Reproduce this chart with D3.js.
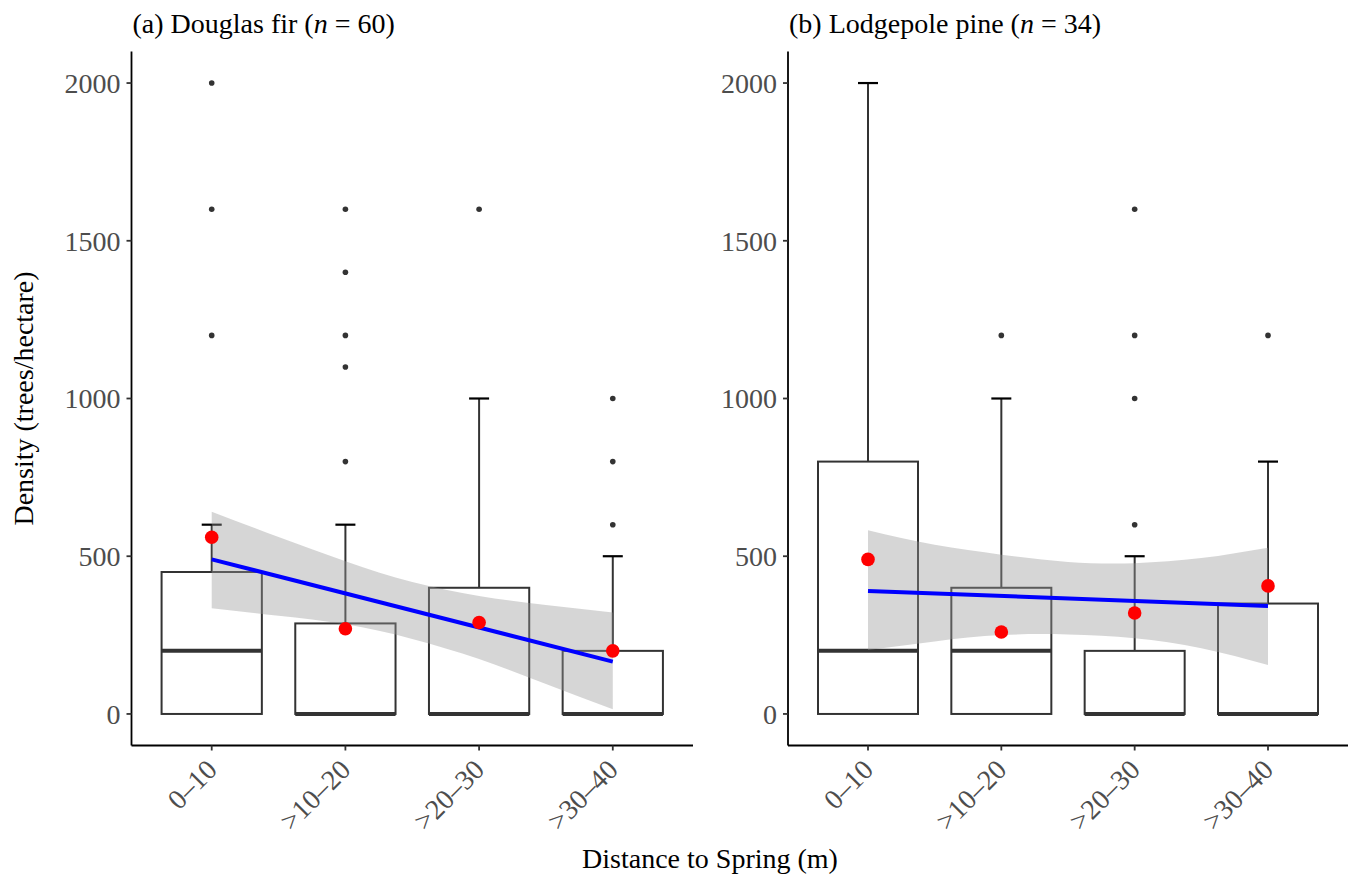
<!DOCTYPE html>
<html>
<head>
<meta charset="utf-8">
<script src="https://cdn.jsdelivr.net/npm/d3@7"></script>
<style>
  body { margin: 0; background: #fff; }
  svg { display: block; font-family: "Liberation Serif", "Times New Roman", serif; }
</style>
</head>
<body>
<svg id="chart" width="1354" height="878"></svg>
<script>
// Boxplots of tree density by distance to spring, two species panels.
const categories = ["0\u201310", ">10\u201320", ">20\u201330", ">30\u201340"];
const yTicks = [0, 500, 1000, 1500, 2000];

// (a) Douglas fir
const dfQ1 = [0, 0, 0, 0];
const dfMedian = [200, 0, 0, 0];
const dfQ3 = [450, 287, 400, 200];
const dfWhisker = [600, 600, 1000, 500];
const dfMean = [560, 270, 290, 200];
const dfOutliers = [[1200, 1600, 2000], [800, 1100, 1200, 1400, 1600], [1600], [600, 800, 1000]];
const dfFit = [490, 166];
const dfBandX = [1, 1.5, 2, 2.5, 3, 3.5, 4];
const dfUpper = [641, 561, 484, 418, 374, 345, 322];
const dfLower = [335, 311, 284, 238, 174, 95, 15];

// (b) Lodgepole pine
const lpQ1 = [0, 0, 0, 0];
const lpMedian = [200, 200, 0, 0];
const lpQ3 = [800, 400, 200, 350];
const lpWhisker = [2000, 1000, 500, 800];
const lpMean = [490, 260, 320, 406];
const lpOutliers = [[], [1200], [600, 1000, 1200, 1600], [1200]];
const lpFit = [390, 342];
const lpBandX = [1, 1.5, 2, 2.5, 3, 3.5, 4];
const lpUpper = [582, 536, 505, 482, 478, 494, 527];
const lpLower = [203, 230, 250, 252, 240, 208, 155];

const panels = [
  { label: "(a) Douglas fir (", n: 60, x0: 131.5, x1: 693,
    q1: dfQ1, med: dfMedian, q3: dfQ3, whi: dfWhisker, mean: dfMean, out: dfOutliers,
    fit: dfFit, bandX: dfBandX, upper: dfUpper, lower: dfLower },
  { label: "(b) Lodgepole pine (", n: 34, x0: 788, x1: 1348,
    q1: lpQ1, med: lpMedian, q3: lpQ3, whi: lpWhisker, mean: lpMean, out: lpOutliers,
    fit: lpFit, bandX: lpBandX, upper: lpUpper, lower: lpLower }
];

const svg = d3.select("#chart");
const plotTop = 51.5, plotBottom = 745.5;
const y = d3.scaleLinear().domain([-100, 2100]).range([plotBottom, plotTop]);
const boxCol = "#333333";

panels.forEach(p => {
  const x = d3.scaleLinear().domain([0.4, 4.6]).range([p.x0, p.x1]);
  const step = x(2) - x(1);
  const bw = step * 0.75;
  const g = svg.append("g");

  // boxes
  const box = g.append("g").selectAll("g").data(categories).join("g");
  box.append("line")
    .attr("x1", (d, i) => x(i + 1)).attr("x2", (d, i) => x(i + 1))
    .attr("y1", (d, i) => y(p.q3[i])).attr("y2", (d, i) => y(p.whi[i]))
    .attr("stroke", boxCol).attr("stroke-width", 2);
  box.append("line")
    .attr("x1", (d, i) => x(i + 1) - 10).attr("x2", (d, i) => x(i + 1) + 10)
    .attr("y1", (d, i) => y(p.whi[i])).attr("y2", (d, i) => y(p.whi[i]))
    .attr("stroke", "#000").attr("stroke-width", 2.2);
  box.append("rect")
    .attr("x", (d, i) => x(i + 1) - bw / 2).attr("width", bw)
    .attr("y", (d, i) => y(p.q3[i]))
    .attr("height", (d, i) => y(p.q1[i]) - y(p.q3[i]))
    .attr("fill", "#fff").attr("stroke", boxCol).attr("stroke-width", 2);
  box.append("line")
    .attr("x1", (d, i) => x(i + 1) - bw / 2).attr("x2", (d, i) => x(i + 1) + bw / 2)
    .attr("y1", (d, i) => y(p.med[i])).attr("y2", (d, i) => y(p.med[i]))
    .attr("stroke", boxCol).attr("stroke-width", 4);
  box.each(function (d, i) {
    d3.select(this).selectAll("circle").data(p.out[i]).join("circle")
      .attr("cx", x(i + 1)).attr("cy", v => y(v)).attr("r", 2.8).attr("fill", boxCol);
  });

  // confidence band + fit
  const idx = d3.range(p.bandX.length);
  g.append("path")
    .attr("d", d3.area().curve(d3.curveNatural)
      .x(i => x(p.bandX[i])).y0(i => y(p.lower[i])).y1(i => y(p.upper[i]))(idx))
    .attr("fill", "#999999").attr("fill-opacity", 0.4);
  g.append("line")
    .attr("x1", x(1)).attr("x2", x(4))
    .attr("y1", y(p.fit[0])).attr("y2", y(p.fit[1]))
    .attr("stroke", "#0000ff").attr("stroke-width", 4);

  // means
  g.append("g").selectAll("circle").data(p.mean).join("circle")
    .attr("cx", (d, i) => x(i + 1)).attr("cy", d => y(d)).attr("r", 6.8).attr("fill", "#ff0000");

  // axes
  g.append("line").attr("x1", p.x0).attr("x2", p.x0).attr("y1", plotTop).attr("y2", plotBottom)
    .attr("stroke", "#000").attr("stroke-width", 1.8);
  g.append("line").attr("x1", p.x0).attr("x2", p.x1).attr("y1", plotBottom).attr("y2", plotBottom)
    .attr("stroke", "#000").attr("stroke-width", 1.8);

  const yt = g.append("g").selectAll("g").data(yTicks).join("g")
    .attr("transform", d => `translate(${p.x0},${y(d)})`);
  yt.append("line").attr("x1", -5).attr("x2", 0).attr("stroke", "#333").attr("stroke-width", 1.8);
  yt.append("text").attr("x", -11).attr("dy", "0.35em").attr("text-anchor", "end")
    .attr("fill", "#4d4d4d").style("font-size", "28px").text(d => d);

  const xt = g.append("g").selectAll("g").data(categories).join("g")
    .attr("transform", (d, i) => `translate(${x(i + 1)},${plotBottom})`);
  xt.append("line").attr("y1", 0).attr("y2", 5).attr("stroke", "#333").attr("stroke-width", 1.8);
  xt.append("text")
    .attr("transform", "translate(-7,12) rotate(-45)")
    .attr("text-anchor", "end").attr("dy", "0.7em")
    .attr("fill", "#4d4d4d").style("font-size", "28px").text(d => d);

  const title = g.append("text").attr("x", p.x0 + 1).attr("y", 33)
    .style("font-size", "28px").attr("fill", "#000");
  title.append("tspan").text(p.label);
  title.append("tspan").style("font-style", "italic").text("n");
  title.append("tspan").text(` = ${p.n})`);
});

svg.append("text")
  .attr("transform", `translate(33,${(plotTop + plotBottom) / 2}) rotate(-90)`)
  .attr("text-anchor", "middle").style("font-size", "28px")
  .text("Density (trees/hectare)");

svg.append("text")
  .attr("x", 710).attr("y", 868).attr("text-anchor", "middle")
  .style("font-size", "28px")
  .text("Distance to Spring (m)");
</script>
</body>
</html>
